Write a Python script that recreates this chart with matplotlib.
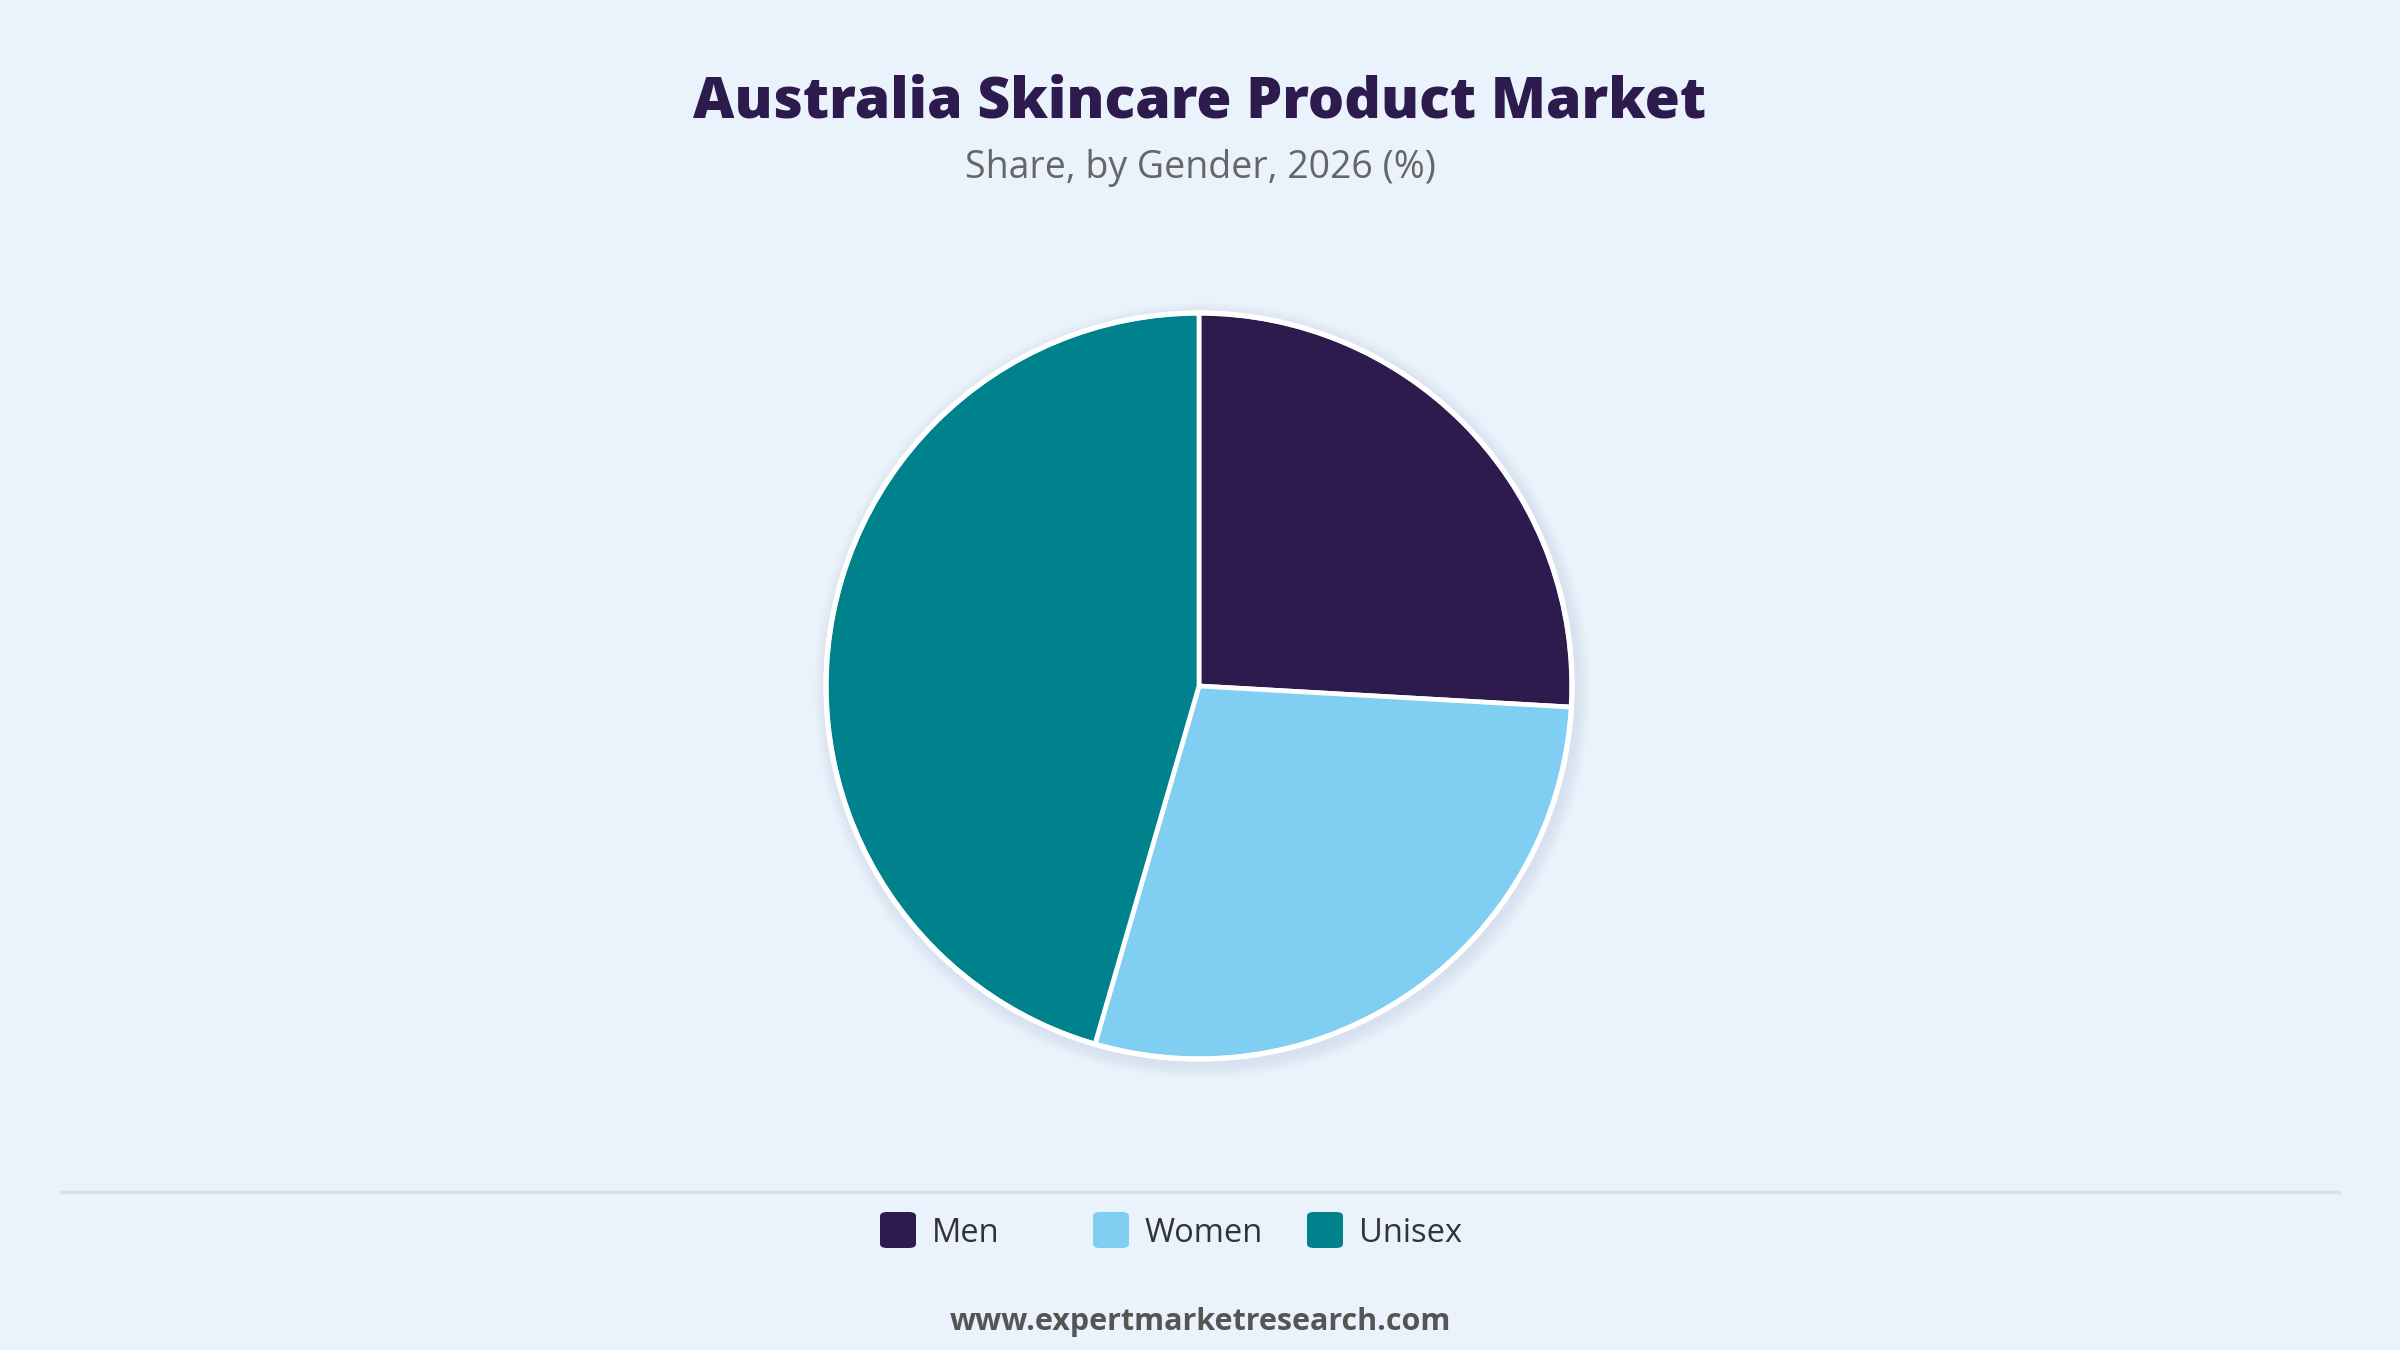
import matplotlib
matplotlib.use("Agg")
import matplotlib.pyplot as plt
from matplotlib.patches import FancyBboxPatch, Circle

categories = ["Men", "Women", "Unisex"]
shares = [25.9, 28.6, 45.5]
colors = ["#2E1B4E", "#80CEF1", "#00828D"]
title = "Australia Skincare Product Market"
subtitle = "Share, by Gender, 2026 (%)"
footer = "www.expertmarketresearch.com"

BG = "#EAF2FB"
W, H = 2400, 1350
fig = plt.figure(figsize=(24, 13.5), dpi=100, facecolor=BG)
plt.rcParams['font.family'] = ['Open Sans', 'DejaVu Sans']

# pie axes (center ~ (1199, 686), radius ~ 373 px)
cx, cy, r = 1199, 686, 373
pad = 40
ax = fig.add_axes([(cx - r - pad) / W, (H - cy - r - pad) / H, 2 * (r + pad) / W, 2 * (r + pad) / H])
ax.set_facecolor(BG)
lim = (r + pad) / r
ax.set_xlim(-lim, lim)
ax.set_ylim(-lim, lim)
ax.set_aspect('equal')
ax.axis('off')

# soft shadow
for i in range(10):
    rr = 1.0 + 0.004 * i + 0.005
    ax.add_patch(Circle((0.008, -0.012), rr, facecolor="#9aa6b8", edgecolor='none', alpha=0.015, zorder=0))

ax.pie(shares, colors=colors, startangle=90, counterclock=False, radius=1.0,
       wedgeprops=dict(edgecolor="white", linewidth=3.4), normalize=True)
ax.add_patch(Circle((0, 0), 1.0, facecolor='none', edgecolor='white', linewidth=3.8, zorder=5))
ax.set_xlim(-lim, lim)
ax.set_ylim(-lim, lim)

# titles
fig.text(0.5, 1 - 103 / H, title, ha='center', va='center', fontsize=41, fontweight='heavy', color="#2E1B4E")
fig.text(0.5, 1 - 168 / H, subtitle, ha='center', va='center', fontsize=27, color="#666666")

# separator line
fig.add_artist(plt.Line2D([61 / W, 2339 / W], [1 - 1192 / H, 1 - 1192 / H], color="#DCDFE4", linewidth=2.5))

# legend
leg_x = [880, 1093, 1307]
leg_y = 1230
sq = 36
for x, lab, col in zip(leg_x, categories, colors):
    p = FancyBboxPatch(((x) / W, 1 - (leg_y + sq / 2) / H), sq / W, sq / H,
                       boxstyle="round,pad=0,rounding_size=0.003", transform=fig.transFigure,
                       facecolor=col, edgecolor='none')
    fig.add_artist(p)
    fig.text((x + sq + 16) / W, 1 - (leg_y + 3) / H, lab, ha='left', va='center', fontsize=23.5, color="#333333")

fig.text(0.5, 1 - 1322 / H, footer, ha='center', va='center', fontsize=22, fontweight='bold', color="#555555")

fig.savefig("out.png", dpi=100, facecolor=BG)
